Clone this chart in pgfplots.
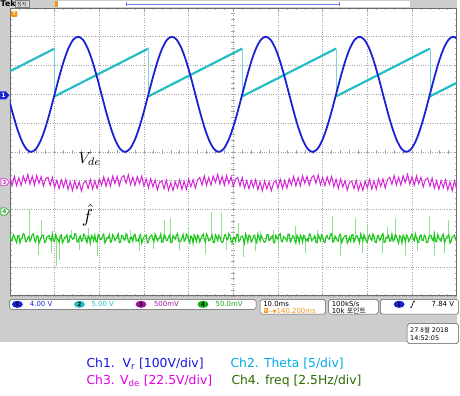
\documentclass[border=0pt]{standalone}
\usepackage{graphicx}
\usepackage{pgfplots}
\pgfplotsset{compat=1.18}
\usepackage{fontspec}
\setmainfont{DejaVu Sans}
\newfontfamily\kr{Noto Sans CJK KR}
\definecolor{cA}{RGB}{25,35,210}
\definecolor{cB}{RGB}{35,190,195}
\definecolor{cBl}{RGB}{120,215,220}
\definecolor{cC}{RGB}{215,35,215}
\definecolor{cD}{RGB}{25,200,25}
\definecolor{cDl}{RGB}{140,225,140}
\definecolor{bgg}{RGB}{205,205,205}
\definecolor{gridc}{RGB}{165,165,165}
\definecolor{tekorange}{RGB}{245,150,20}
\definecolor{tpurple}{RGB}{160,20,160}
\definecolor{lgblue}{RGB}{20,20,230}
\definecolor{lgcyan}{RGB}{0,170,235}
\definecolor{lgmag}{RGB}{225,0,225}
\definecolor{lggreen}{RGB}{40,110,0}
\begin{document}
\begin{tikzpicture}
\begin{scope}[x=1bp,y=-1bp]
\useasboundingbox (0,0) rectangle (460,398);
\fill[bgg] (0,0) rectangle (460,344);
\fill[white] (0,344) rectangle (460,398);
\fill[white] (10,8) rectangle (460,298);
\foreach \i in {0,...,50}{\draw[gridc, line width=0.5bp] (233,{8+5.8*\i}) -- (237,{8+5.8*\i});}
\foreach \i in {0,...,50}{\draw[gridc, line width=0.5bp] ({10+9*\i},151) -- ({10+9*\i},155);}
\end{scope}
\begin{axis}[at={(10bp,-298bp)}, anchor=south west, width=450bp, height=290bp, scale only axis,
  xmin=0, xmax=100, ymin=-5, ymax=5,
  axis line style={draw=gray!85!black, line width=0.8bp},
  xtick={0,10,...,100}, ytick={-5,-4,...,5}, minor x tick num=4, minor y tick num=4,
  xticklabels={}, yticklabels={}, tick align=inside,
  major tick length=3bp, minor tick length=2bp, tick style={gridc, line width=0.6bp},
  grid=major, major grid style={gridc, dotted, line width=0.7bp},
  clip=true, no markers]
% Ch2 sawtooth (ramps)
\addplot[cB, line width=2.2bp, unbounded coords=jump] coordinates {
(0,2.80) (10,3.59) (10,nan) (10,1.93) (31,3.59) (31,nan) (31,1.93) (52,3.59) (52,nan)
(52,1.93) (73,3.59) (73,nan) (73,1.93) (94,3.59) (94,nan) (94,1.93) (100,2.40)};
% Ch2 jumps
\addplot[cBl, line width=0.7bp, unbounded coords=jump] coordinates {
(10,3.59) (10,1.93) (10,nan) (31,3.59) (31,1.93) (31,nan) (52,3.59) (52,1.93) (52,nan)
(73,3.59) (73,1.93) (73,nan) (94,3.59) (94,1.93)};
% Ch1 sine
\addplot[cA, line width=1.8bp, smooth] coordinates {
(-0.5,2) (0.55,1.382) (1.6,0.824) (2.65,0.382) (3.7,0.098) (4.75,0) (5.8,0.098) (6.85,0.382) (7.9,0.824) (8.95,1.382)
(10,2) (11.05,2.618) (12.1,3.176) (13.15,3.618) (14.2,3.902) (15.25,4) (16.3,3.902) (17.35,3.618) (18.4,3.176) (19.45,2.618)
(20.5,2) (21.55,1.382) (22.6,0.824) (23.65,0.382) (24.7,0.098) (25.75,0) (26.8,0.098) (27.85,0.382) (28.9,0.824) (29.95,1.382)
(31,2) (32.05,2.618) (33.1,3.176) (34.15,3.618) (35.2,3.902) (36.25,4) (37.3,3.902) (38.35,3.618) (39.4,3.176) (40.45,2.618)
(41.5,2) (42.55,1.382) (43.6,0.824) (44.65,0.382) (45.7,0.098) (46.75,0) (47.8,0.098) (48.85,0.382) (49.9,0.824) (50.95,1.382)
(52,2) (53.05,2.618) (54.1,3.176) (55.15,3.618) (56.2,3.902) (57.25,4) (58.3,3.902) (59.35,3.618) (60.4,3.176) (61.45,2.618)
(62.5,2) (63.55,1.382) (64.6,0.824) (65.65,0.382) (66.7,0.098) (67.75,0) (68.8,0.098) (69.85,0.382) (70.9,0.824) (71.95,1.382)
(73,2) (74.05,2.618) (75.1,3.176) (76.15,3.618) (77.2,3.902) (78.25,4) (79.3,3.902) (80.35,3.618) (81.4,3.176) (82.45,2.618)
(83.5,2) (84.55,1.382) (85.6,0.824) (86.65,0.382) (87.7,0.098) (88.75,0) (89.8,0.098) (90.85,0.382) (91.9,0.824) (92.95,1.382)
(94,2) (95.05,2.618) (96.1,3.176) (97.15,3.618) (98.2,3.902) (99.25,4) (100.3,3.902)};
% Ch3 Vde
\addplot[cC, line width=1.0bp] coordinates {
(0,-0.91) (0.5,-1.16) (1,-0.85) (1.5,-1.17) (2,-0.90) (2.5,-1.16) (3,-0.84) (3.5,-1.07) (4,-0.78) (4.5,-1.12)
(5,-0.85) (5.5,-1.15) (6,-0.82) (6.5,-1.09) (7,-0.86) (7.5,-1.19) (8,-0.93) (8.5,-0.88) (9,-1.16) (9.5,-0.88)
(10,-1.23) (10.5,-0.99) (11,-1.27) (11.5,-0.97) (12,-1.22) (12.5,-0.95) (13,-1.30) (13.5,-1.04) (14,-1.34) (14.5,-1.01)
(15,-1.28) (15.5,-1.04) (16,-1.36) (16.5,-1.08) (17,-1.01) (17.5,-1.27) (18,-0.96) (18.5,-1.29) (19,-1.01) (19.5,-1.27)
(20,-0.95) (20.5,-1.16) (21,-0.87) (21.5,-1.19) (22,-0.91) (22.5,-1.19) (23,-0.84) (23.5,-1.10) (24,-0.85) (24.5,-1.17)
(25,-0.89) (25.5,-0.82) (26,-1.09) (26.5,-0.79) (27,-1.14) (27.5,-0.88) (28,-1.16) (28.5,-0.86) (29,-1.10) (29.5,-0.84)
(30,-1.19) (30.5,-0.94) (31,-1.25) (31.5,-0.93) (32,-1.21) (32.5,-0.98) (33,-1.32) (33.5,-1.06) (34,-1.00) (34.5,-1.28)
(35,-0.98) (35.5,-1.33) (36,-1.07) (36.5,-1.34) (37,-1.03) (37.5,-1.25) (38,-0.97) (38.5,-1.30) (39,-1.02) (39.5,-1.31)
(40,-0.95) (40.5,-1.21) (41,-0.96) (41.5,-1.26) (42,-0.98) (42.5,-0.89) (43,-1.15) (43.5,-0.83) (44,-1.16) (44.5,-0.89)
(45,-1.15) (45.5,-0.84) (46,-1.06) (46.5,-0.78) (47,-1.12) (47.5,-0.85) (48,-1.16) (48.5,-0.82) (49,-1.10) (49.5,-0.87)
(50,-1.20) (50.5,-0.95) (51,-0.89) (51.5,-1.18) (52,-0.89) (52.5,-1.25) (53,-1.00) (53.5,-1.28) (54,-0.99) (54.5,-1.23)
(55,-0.96) (55.5,-1.31) (56,-1.04) (56.5,-1.35) (57,-1.01) (57.5,-1.28) (58,-1.04) (58.5,-1.35) (59,-1.08) (59.5,-1.00)
(60,-1.26) (60.5,-0.95) (61,-1.27) (61.5,-1.00) (62,-1.26) (62.5,-0.93) (63,-1.15) (63.5,-0.85) (64,-1.18) (64.5,-0.89)
(65,-1.18) (65.5,-0.83) (66,-1.09) (66.5,-0.85) (67,-1.16) (67.5,-0.89) (68,-0.82) (68.5,-1.09) (69,-0.80) (69.5,-1.14)
(70,-0.89) (70.5,-1.17) (71,-0.87) (71.5,-1.12) (72,-0.85) (72.5,-1.21) (73,-0.95) (73.5,-1.27) (74,-0.94) (74.5,-1.22)
(75,-1.00) (75.5,-1.33) (76,-1.07) (76.5,-1.01) (77,-1.28) (77.5,-0.99) (78,-1.33) (78.5,-1.07) (79,-1.34) (79.5,-1.02)
(80,-1.25) (80.5,-0.96) (81,-1.29) (81.5,-1.01) (82,-1.29) (82.5,-0.94) (83,-1.20) (83.5,-0.94) (84,-1.25) (84.5,-0.96)
(85,-0.88) (85.5,-1.13) (86,-0.82) (86.5,-1.15) (87,-0.88) (87.5,-1.15) (88,-0.83) (88.5,-1.06) (89,-0.78) (89.5,-1.12)
(90,-0.86) (90.5,-1.16) (91,-0.83) (91.5,-1.11) (92,-0.88) (92.5,-1.22) (93,-0.96) (93.5,-0.91) (94,-1.19) (94.5,-0.91)
(95,-1.26) (95.5,-1.01) (96,-1.30) (96.5,-1.00) (97,-1.24) (97.5,-0.97) (98,-1.31) (98.5,-1.05) (99,-1.35) (99.5,-1.01)
(100,-1.28)};
% Ch4 spikes (light)
\addplot[cDl, line width=0.6bp, unbounded coords=jump] coordinates {
(4.44,-3) (4.44,-2.03) (4.44,nan) (7.11,-3) (7.11,-2.38) (7.11,nan) (13.78,-3) (13.78,-2.7) (13.78,nan)
(17.5,-3) (17.5,-2.65) (17.5,nan) (22.89,-3) (22.89,-2.8) (22.89,nan) (27,-3) (27,-2.7) (27,nan)
(34.44,-3) (34.44,-2.38) (34.44,nan) (36,-3) (36,-2.31) (36,nan) (40,-3) (40,-2.6) (40,nan)
(45.11,-3) (45.11,-2.07) (45.11,nan) (47.33,-3) (47.33,-2.12) (47.33,nan) (51.11,-3) (51.11,-2.48) (51.11,nan)
(56,-3) (56,-2.75) (56,nan) (59,-3) (59,-2.72) (59,nan) (63.78,-3) (63.78,-2.59) (63.78,nan)
(68.89,-3) (68.89,-2.7) (68.89,nan) (72.22,-3) (72.22,-2.24) (72.22,nan) (77.33,-3) (77.33,-2.31) (77.33,nan)
(80,-3) (80,-2.5) (80,nan) (84.5,-3) (84.5,-2.62) (84.5,nan) (86.22,-3) (86.22,-2.31) (86.22,nan)
(93.78,-3) (93.78,-2.24) (93.78,nan) (98.22,-3) (98.22,-2.38) (98.22,nan)
(6.44,-3) (6.44,-3.59) (6.44,nan) (9.33,-3) (9.33,-3.52) (9.33,nan) (10.44,-3) (10.44,-3.97) (10.44,nan)
(11.11,-3) (11.11,-3.76) (11.11,nan) (15.5,-3) (15.5,-3.4) (15.5,nan) (19.56,-3) (19.56,-3.62) (19.56,nan)
(28.89,-3) (28.89,-3.45) (28.89,nan) (32,-3) (32,-3.38) (32,nan) (38,-3) (38,-3.42) (38,nan)
(43.78,-3) (43.78,-3.55) (43.78,nan) (48.44,-3) (48.44,-3.4) (48.44,nan) (52.22,-3) (52.22,-3.65) (52.22,nan)
(55,-3) (55,-3.45) (55,nan) (60,-3) (60,-3.41) (60,nan) (66,-3) (66,-3.5) (66,nan)
(74,-3) (74,-3.6) (74,nan) (78.89,-3) (78.89,-3.52) (78.89,nan) (83.33,-3) (83.33,-3.52) (83.33,nan)
(88.44,-3) (88.44,-3.6) (88.44,nan) (91.11,-3) (91.11,-3.45) (91.11,nan) (94.89,-3) (94.89,-3.62) (94.89,nan)
(97.33,-3) (97.33,-3.5)};
% Ch4 freq (dense)
\addplot[cD, line width=1.1bp] coordinates {
(0,-2.88) (0.25,-3.10) (0.5,-3.08) (0.75,-2.87) (1,-2.95) (1.25,-3.05) (1.5,-3.15) (1.75,-2.91) (2,-2.90) (2.25,-3.16)
(2.5,-3.03) (2.75,-2.97) (3,-2.84) (3.25,-2.88) (3.5,-3.12) (3.75,-3.11) (4,-2.98) (4.25,-2.94) (4.5,-3.10) (4.75,-3.02)
(5,-2.86) (5.25,-2.85) (5.5,-3.06) (5.75,-3.13) (6,-2.92) (6.25,-2.92) (6.5,-3.17) (6.75,-3.07) (7,-2.96) (7.25,-2.89)
(7.5,-2.89) (7.75,-3.15) (8,-3.13) (8.25,-2.96) (8.5,-2.93) (8.75,-2.90) (9,-3.04) (9.25,-3.09) (9.5,-2.85) (9.75,-3.10)
(10,-3.09) (10.25,-2.87) (10.5,-2.99) (10.75,-3.05) (11,-3.14) (11.25,-2.91) (11.5,-2.88) (11.75,-3.16) (12,-3.08) (12.25,-2.97)
(12.5,-2.95) (12.75,-2.88) (13,-3.15) (13.25,-3.11) (13.5,-2.90) (13.75,-2.94) (14,-3.03) (14.25,-3.02) (14.5,-2.84) (14.75,-2.85)
(15,-3.12) (15.25,-3.13) (15.5,-2.98) (15.75,-2.92) (16,-3.10) (16.25,-3.07) (16.5,-2.86) (16.75,-2.89) (17,-3.06) (17.25,-3.15)
(17.5,-2.92) (17.75,-2.96) (18,-3.17) (18.25,-2.90) (18.5,-2.96) (18.75,-3.09) (19,-2.89) (19.25,-3.10) (19.5,-3.13) (19.75,-2.87)
(20,-2.93) (20.25,-3.05) (20.5,-3.04) (20.75,-2.91) (21,-2.85) (21.25,-3.16) (21.5,-3.09) (21.75,-2.97) (22,-2.99) (22.25,-2.88)
(22.5,-3.14) (22.75,-3.11) (23,-2.88) (23.25,-2.94) (23.5,-3.08) (23.75,-3.02) (24,-2.95) (24.25,-2.85) (24.5,-3.15) (24.75,-3.13)
(25,-2.90) (25.25,-2.92) (25.5,-3.03) (25.75,-3.07) (26,-2.84) (26.25,-2.89) (26.5,-3.12) (26.75,-3.15) (27,-2.98) (27.25,-2.96)
(27.5,-3.10) (27.75,-2.90) (28,-2.86) (28.25,-3.09) (28.5,-3.06) (28.75,-3.10) (29,-2.92) (29.25,-2.87) (29.5,-3.17) (29.75,-3.05)
(30,-2.96) (30.25,-2.91) (30.5,-2.89) (30.75,-3.16) (31,-3.13) (31.25,-2.97) (31.5,-2.93) (31.75,-2.88) (32,-3.04) (32.25,-3.11)
(32.5,-2.85) (32.75,-2.94) (33,-3.09) (33.25,-3.02) (33.5,-2.99) (33.75,-2.85) (34,-3.14) (34.25,-3.13) (34.5,-2.88) (34.75,-2.92)
(35,-3.08) (35.25,-3.07) (35.5,-2.95) (35.75,-2.89) (36,-3.15) (36.25,-3.15) (36.5,-2.90) (36.75,-2.96) (37,-3.03) (37.25,-2.90)
(37.5,-2.84) (37.75,-3.09) (38,-3.12) (38.25,-3.10) (38.5,-2.98) (38.75,-2.87) (39,-3.10) (39.25,-3.05) (39.5,-2.86) (39.75,-2.91)
(40,-3.06) (40.25,-3.16) (40.5,-2.92) (40.75,-2.97) (41,-3.17) (41.25,-2.88) (41.5,-2.96) (41.75,-3.11) (42,-2.89) (42.25,-2.94)
(42.5,-3.13) (42.75,-3.02) (43,-2.93) (43.25,-2.85) (43.5,-3.04) (43.75,-3.13) (44,-2.85) (44.25,-2.92) (44.5,-3.09) (44.75,-3.07)
(45,-2.99) (45.25,-2.89) (45.5,-3.14) (45.75,-3.15) (46,-2.88) (46.25,-2.96) (46.5,-3.08) (46.75,-2.90) (47,-2.95) (47.25,-3.09)
(47.5,-3.15) (47.75,-3.10) (48,-2.90) (48.25,-2.87) (48.5,-3.03) (48.75,-3.05) (49,-2.84) (49.25,-2.91) (49.5,-3.12) (49.75,-3.16)
(50,-2.98) (50.25,-2.97) (50.5,-3.10) (50.75,-2.88) (51,-2.86) (51.25,-3.11) (51.5,-3.06) (51.75,-2.94) (52,-2.92) (52.25,-3.02)
(52.5,-3.17) (52.75,-2.85) (53,-2.96) (53.25,-3.13) (53.5,-2.89) (53.75,-2.92) (54,-3.13) (54.25,-3.07) (54.5,-2.93) (54.75,-2.89)
(55,-3.04) (55.25,-3.15) (55.5,-2.85) (55.75,-2.96) (56,-3.09) (56.25,-2.90) (56.5,-2.99) (56.75,-3.09) (57,-3.14) (57.25,-3.10)
(57.5,-2.88) (57.75,-2.87) (58,-3.08) (58.25,-3.05) (58.5,-2.95) (58.75,-2.91) (59,-3.15) (59.25,-3.16) (59.5,-2.90) (59.75,-2.97)
(60,-3.03) (60.25,-2.88) (60.5,-2.84) (60.75,-3.11) (61,-3.12) (61.25,-2.94) (61.5,-2.98) (61.75,-3.02) (62,-3.10) (62.25,-2.85)
(62.5,-2.86) (62.75,-3.13) (63,-3.06) (63.25,-2.92) (63.5,-2.92) (63.75,-3.07) (64,-3.17) (64.25,-2.89) (64.5,-2.96) (64.75,-3.15)
(65,-2.89) (65.25,-2.96) (65.5,-3.13) (65.75,-2.90) (66,-2.93) (66.25,-3.09) (66.5,-3.04) (66.75,-3.10) (67,-2.85) (67.25,-2.87)
(67.5,-3.09) (67.75,-3.05) (68,-2.99) (68.25,-2.91) (68.5,-3.14) (68.75,-3.16) (69,-2.88) (69.25,-2.97) (69.5,-3.08) (69.75,-2.88)
(70,-2.95) (70.25,-3.11) (70.5,-3.15) (70.75,-2.94) (71,-2.90) (71.25,-3.02) (71.5,-3.03) (71.75,-2.85) (72,-2.84) (72.25,-3.13)
(72.5,-3.12) (72.75,-2.92) (73,-2.98) (73.25,-3.07) (73.5,-3.10) (73.75,-2.89) (74,-2.86) (74.25,-3.15) (74.5,-3.06) (74.75,-2.96)
(75,-2.92) (75.25,-2.90) (75.5,-3.17) (75.75,-3.09) (76,-2.96) (76.25,-3.10) (76.5,-2.89) (76.75,-2.87) (77,-3.13) (77.25,-3.05)
(77.5,-2.93) (77.75,-2.91) (78,-3.04) (78.25,-3.16) (78.5,-2.85) (78.75,-2.97) (79,-3.09) (79.25,-2.88) (79.5,-2.99) (79.75,-3.11)
(80,-3.14) (80.25,-2.94) (80.5,-2.88) (80.75,-3.02) (81,-3.08) (81.25,-2.85) (81.5,-2.95) (81.75,-3.13) (82,-3.15) (82.25,-2.92)
(82.5,-2.90) (82.75,-3.07) (83,-3.03) (83.25,-2.89) (83.5,-2.84) (83.75,-3.15) (84,-3.12) (84.25,-2.96) (84.5,-2.98) (84.75,-2.90)
(85,-3.10) (85.25,-3.09) (85.5,-2.86) (85.75,-3.10) (86,-3.06) (86.25,-2.87) (86.5,-2.92) (86.75,-3.05) (87,-3.17) (87.25,-2.91)
(87.5,-2.96) (87.75,-3.16) (88,-2.89) (88.25,-2.97) (88.5,-3.13) (88.75,-2.88) (89,-2.93) (89.25,-3.11) (89.5,-3.04) (89.75,-2.94)
(90,-2.85) (90.25,-3.02) (90.5,-3.09) (90.75,-2.85) (91,-2.99) (91.25,-3.13) (91.5,-3.14) (91.75,-2.92) (92,-2.88) (92.25,-3.07)
(92.5,-3.08) (92.75,-2.89) (93,-2.95) (93.25,-3.15) (93.5,-3.15) (93.75,-2.96) (94,-2.90) (94.25,-2.90) (94.5,-3.03) (94.75,-3.09)
(95,-2.84) (95.25,-3.10) (95.5,-3.12) (95.75,-2.87) (96,-2.98) (96.25,-3.05) (96.5,-3.10) (96.75,-2.91) (97,-2.86) (97.25,-3.16)
(97.5,-3.06) (97.75,-2.97) (98,-2.92) (98.25,-2.88) (98.5,-3.17) (98.75,-3.11) (99,-2.96) (99.25,-2.94) (99.5,-2.89) (99.75,-3.02)
(100,-3.13)};
\end{axis}
\begin{scope}[x=1bp,y=-1bp, every node/.style={inner sep=0pt}]
% header
\node[anchor=west, font=\fontsize{8}{8}\selectfont\bfseries] at (0.5,4) {Tek};
\draw[gray, fill=bgg!70!white, line width=0.4bp] (15,0.5) rectangle (29,7.5);
\node[font=\kr\fontsize{5.5}{5.5}\selectfont, text=black!80] at (22,4) {정지};
\fill[white] (56,1) rectangle (413,7.5);
\draw[cA!60, line width=0.9bp] (127,4) -- (342,4);
\draw[cA!60, line width=0.6bp] (127,2) -- (127,6) (342,2) -- (342,6);
\fill[tekorange] (55,1) rectangle (58.5,7);
% trigger marker in graph
\fill[tekorange, rounded corners=1bp] (11,11) rectangle (17.5,17);
\node[text=white, font=\fontsize{5}{5}\selectfont\bfseries] at (14.3,14) {T};
% channel tags
\fill[cA] (0,92) -- (6,92) -- (9.5,96) -- (6,100) -- (0,100) -- cycle;
\node[text=white, font=\fontsize{6}{6}\selectfont\bfseries] at (3.5,96) {1};
\draw[cC, fill=white, line width=0.6bp] (1,180) -- (6,180) -- (9.5,183.5) -- (6,187) -- (1,187) -- cycle;
\node[text=cC, font=\fontsize{5.5}{5.5}\selectfont\bfseries] at (4.5,183.5) {3};
\draw[cD!80!black, fill=white, line width=0.6bp] (1,209.5) -- (6,209.5) -- (9.5,213) -- (6,216.5) -- (1,216.5) -- cycle;
\node[text=cD!80!black, font=\fontsize{5.5}{5.5}\selectfont\bfseries] at (4.5,213) {4};
% annotations
\node[anchor=west] at (79,160) {\scalebox{1.6}{$V_{de}$}};
\node at (88,217) {\scalebox{1.9}{$\hat{f}$}};
% status bar
\draw[gray!70!black, fill=white, rounded corners=2bp, line width=0.5bp] (9.5,301.5) rectangle (258,311.5);
\fill[cA] (17.5,306.5) ellipse (5.5bp and 3.6bp);
\node[text=black, font=\fontsize{5.5}{5.5}\selectfont\bfseries] at (17.5,306.5) {1};
\node[anchor=west, text=cA, font=\fontsize{7}{7}\selectfont] at (30,306.5) {4.00 V};
\fill[cB] (80,306.5) ellipse (5.5bp and 3.6bp);
\node[text=black, font=\fontsize{5.5}{5.5}\selectfont\bfseries] at (80,306.5) {2};
\node[anchor=west, text=cB, font=\fontsize{7}{7}\selectfont] at (92,306.5) {5.00 V};
\fill[tpurple] (142,306.5) ellipse (5.5bp and 3.6bp);
\node[text=black, font=\fontsize{5.5}{5.5}\selectfont\bfseries] at (142,306.5) {3};
\node[anchor=west, text=tpurple, font=\fontsize{7}{7}\selectfont] at (155,306.5) {500mV};
\fill[cD!85!black] (204.5,306.5) ellipse (5.5bp and 3.6bp);
\node[text=black, font=\fontsize{5.5}{5.5}\selectfont\bfseries] at (204.5,306.5) {4};
\node[anchor=west, text=cD!85!black, font=\fontsize{7}{7}\selectfont] at (217,306.5) {50.0mV};
\draw[gray!70!black, fill=white, rounded corners=2bp, line width=0.5bp] (262,301.5) rectangle (328,316.5);
\node[anchor=west, font=\fontsize{7}{7}\selectfont] at (265,306) {10.0ms};
\fill[tekorange] (265.5,310.5) rectangle (270,315);
\node[text=white, font=\fontsize{4.5}{4.5}\selectfont\bfseries] at (267.8,312.8) {T};
\node[anchor=west, text=tekorange, font=\fontsize{7}{7}\selectfont] at (270.5,313) {\fontsize{5}{5}\selectfont →▼\fontsize{7}{7}\selectfont 140.200ms};
\draw[gray!70!black, fill=white, rounded corners=2bp, line width=0.5bp] (331,301.5) rectangle (381,316.5);
\node[anchor=west, font=\fontsize{7}{7}\selectfont] at (334,306) {100kS/s};
\node[anchor=west, font=\fontsize{7}{7}\selectfont] at (334,313) {10k {\kr 포인트}};
\draw[gray!70!black, fill=white, rounded corners=2bp, line width=0.5bp] (383,301.5) rectangle (462,316.5);
\fill[cA] (402,306.5) ellipse (5.5bp and 3.6bp);
\node[text=black, font=\fontsize{5.5}{5.5}\selectfont\bfseries] at (402,306.5) {1};
\draw[black, line width=0.7bp] (413,309.5) -- (414.5,309.5) -- (416.5,303.5) -- (418,303.5);
\node[anchor=east, font=\fontsize{7}{7}\selectfont] at (457.5,306.5) {7.84 V};
% date box
\draw[gray!70!black, fill=white, rounded corners=2bp, line width=0.5bp] (410,326) rectangle (462,346);
\node[anchor=west, font=\fontsize{6.5}{6.5}\selectfont] at (413,332.5) {27 {\kr 8월} 2018};
\node[anchor=west, font=\fontsize{6.5}{6.5}\selectfont] at (413,340.5) {14:52:05};
% legend text
\node[anchor=base west, text=lgblue, font=\fontsize{12.5}{13}\selectfont] at (87,370) {Ch1.\ \ V\textsubscript{r} [100V/div]};
\node[anchor=base west, text=lgcyan, font=\fontsize{12.5}{13}\selectfont] at (232,370) {Ch2. Theta [5/div]};
\node[anchor=base west, text=lgmag, font=\fontsize{12.5}{13}\selectfont] at (87,387) {Ch3. V\textsubscript{de} [22.5V/div]};
\node[anchor=base west, text=lggreen, font=\fontsize{12.5}{13}\selectfont] at (233,387) {Ch4. freq [2.5Hz/div]};
\end{scope}
\end{tikzpicture}
\end{document}
